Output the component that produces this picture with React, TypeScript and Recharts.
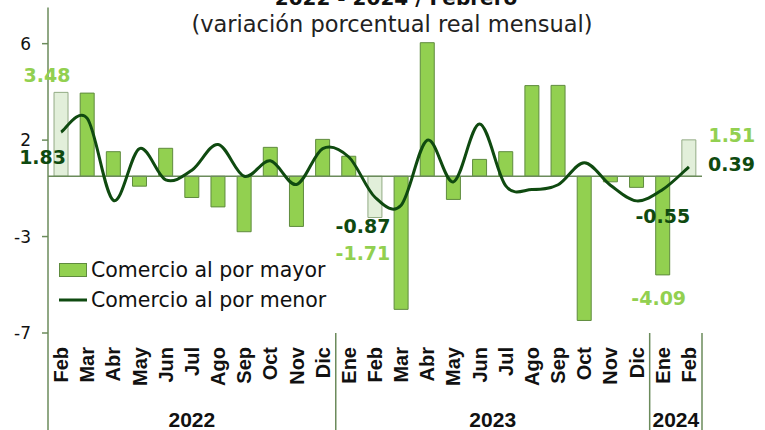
import React from 'react';
import {
    ComposedChart,
    Bar,
    Line,
    Cell,
    XAxis,
    YAxis,
    ReferenceLine,
    Legend,
    LabelList,
} from 'recharts';

const months = ['Feb', 'Mar', 'Abr', 'May', 'Jun', 'Jul', 'Ago', 'Sep', 'Oct', 'Nov', 'Dic',
    'Ene', 'Feb', 'Mar', 'Abr', 'May', 'Jun', 'Jul', 'Ago', 'Sep', 'Oct', 'Nov', 'Dic',
    'Ene', 'Feb'];
const years = ['2022', '2022', '2022', '2022', '2022', '2022', '2022', '2022', '2022', '2022', '2022',
    '2023', '2023', '2023', '2023', '2023', '2023', '2023', '2023', '2023', '2023', '2023', '2023',
    '2024', '2024'];
// Comercio al por mayor
const mayor = [3.48, 3.45, 1.02, -0.41, 1.16, -0.88, -1.27, -2.30, 1.20, -2.08, 1.53,
    0.83, -1.71, -5.52, 5.54, -0.96, 0.70, 1.02, 3.76, 3.77, -5.98, -0.23, -0.46,
    -4.09, 1.51];
// Comercio al por menor
const menor = [1.83, 2.40, -1.00, 1.15, -0.15, 0.25, 1.32, 0.00, 0.64, -0.34, 1.15,
    0.80, -0.87, -1.20, 1.50, -0.23, 2.17, -0.40, -0.55, -0.35, 0.56, -0.37, -1.02,
    -0.55, 0.39];
const yTicks = [-6.5, -2.5, 1.5, 5.5];

const data = months.map((m, i) => ({ month: m, year: years[i], mayor: mayor[i], menor: menor[i] }));

const W = 765;
const H = 430;
const LEFT = 48;
const RIGHT = 63;
const AXIS_H = 97;
const PLOT_BOTTOM = H - AXIS_H;
const BAND = (W - LEFT - RIGHT) / months.length;

const GREEN = '#92D050';
const GREEN_STROKE = '#5f8b3e';
const PALE = '#E2EFDA';
const PALE_STROKE = '#93ab85';
const DARK = '#0f4a10';
const AXIS = '#6b8b5b';

// Excel-like smoothed line (Catmull-Rom through every point)
function smoothCurve(context: any) {
    let pts: number[][] = [];
    return {
        areaStart() {},
        areaEnd() {},
        lineStart() { pts = []; },
        point(x: number, y: number) { pts.push([+x, +y]); },
        lineEnd() {
            if (!pts.length) return;
            context.moveTo(pts[0][0], pts[0][1]);
            for (let i = 0; i < pts.length - 1; i++) {
                const p0 = pts[Math.max(0, i - 1)];
                const p1 = pts[i];
                const p2 = pts[i + 1];
                const p3 = pts[Math.min(pts.length - 1, i + 2)];
                context.bezierCurveTo(
                    p1[0] + (p2[0] - p0[0]) / 6, p1[1] + (p2[1] - p0[1]) / 6,
                    p2[0] - (p3[0] - p1[0]) / 6, p2[1] - (p3[1] - p1[1]) / 6,
                    p2[0], p2[1]
                );
            }
        },
    };
}

const barLabelPos: Record<number, number[]> = { 0: [-14, -17], 12: [-12, 35], 23: [-4, 23.5], 24: [43, -5] };
const lineLabelPos: Record<number, number[]> = { 0: [-18.5, 24.5], 12: [-12, 29], 23: [0, 26.5], 24: [42.5, -2.5] };

const labelStyle = { fontFamily: 'DejaVu Sans', fontWeight: 700, fontSize: 19 };

function BarLabel(props: any) {
    const { x, y, width, height, value, index } = props;
    const pos = barLabelPos[index];
    if (!pos) return null;
    const endY = value >= 0 ? Math.min(y, y + height) : Math.max(y, y + height);
    return (
        <text x={x + width / 2 + pos[0]} y={endY + pos[1]} textAnchor="middle" dominantBaseline="central"
            fill={GREEN} style={labelStyle}>
            {Number(value).toFixed(2)}
        </text>
    );
}

function LineLabel(props: any) {
    const { x, y, value, index } = props;
    const pos = lineLabelPos[index];
    if (!pos) return null;
    return (
        <text x={x + pos[0]} y={y + pos[1]} textAnchor="middle" dominantBaseline="central"
            fill={DARK} style={labelStyle}>
            {Number(value).toFixed(2)}
        </text>
    );
}

function MonthTick(props: any) {
    const { x, index } = props;
    const left = x - BAND / 2;
    const isStart = index === 0 || years[index] !== years[index - 1];
    const isLast = index === months.length - 1;
    const count = years.filter((y) => y === years[index]).length;
    const ty = PLOT_BOTTOM + 14;
    return (
        <g>
            <text x={x} y={ty} transform={`rotate(-90 ${x} ${ty})`} textAnchor="end" dominantBaseline="central"
                fill="#111" style={{ fontFamily: 'Liberation Sans', fontWeight: 700, fontSize: 20 }}>
                {months[index]}
            </text>
            {isStart && (
                <>
                    <line x1={left} x2={left} y1={PLOT_BOTTOM} y2={H} stroke={AXIS} strokeWidth={1.5} />
                    <text x={left + (count * BAND) / 2} y={H - 3} textAnchor="middle" fill="#111"
                        style={{ fontFamily: 'Liberation Sans', fontWeight: 700, fontSize: 21 }}>
                        {years[index]}
                    </text>
                </>
            )}
            {isLast && <line x1={x + BAND / 2} x2={x + BAND / 2} y1={PLOT_BOTTOM} y2={H} stroke={AXIS} strokeWidth={1.5} />}
        </g>
    );
}

function LegendBox() {
    const text = { fontFamily: 'DejaVu Sans', fontSize: 20.5, color: '#111', marginLeft: 4 };
    return (
        <div style={{ display: 'flex', flexDirection: 'column' }}>
            <div style={{ display: 'flex', alignItems: 'center', height: 30 }}>
                <svg width={28} height={14}>
                    <rect x={0.5} y={0.5} width={27} height={13} fill={GREEN} stroke={GREEN_STROKE} />
                </svg>
                <span style={text}>Comercio al por mayor</span>
            </div>
            <div style={{ display: 'flex', alignItems: 'center', height: 30 }}>
                <svg width={28} height={6}>
                    <line x1={0} x2={28} y1={3} y2={3} stroke={DARK} strokeWidth={3} />
                </svg>
                <span style={text}>Comercio al por menor</span>
            </div>
        </div>
    );
}

export default function App() {
    return (
        <div style={{ position: 'absolute', left: 0, top: 0, width: W, height: H, background: '#fff' }}>
            <ComposedChart width={W} height={H} data={data} barCategoryGap="23%"
                margin={{ top: 7.5, right: RIGHT, left: 0, bottom: 0 }}>
                <XAxis dataKey="month" interval={0} axisLine={false} tickLine={false} height={AXIS_H}
                    tick={<MonthTick />} />
                <YAxis width={LEFT} domain={[-6.5, 7]} ticks={yTicks} allowDataOverflow
                    axisLine={{ stroke: AXIS, strokeWidth: 1.5 }} tickLine={{ stroke: AXIS, strokeWidth: 1.5 }}
                    tickSize={6} tickMargin={11}
                    tick={{ fill: '#111', fontFamily: 'DejaVu Sans', fontSize: 17 }}
                    tickFormatter={(v: number) => String(Math.sign(v) * Math.round(Math.abs(v)))} />
                <Bar dataKey="mayor" strokeWidth={1} isAnimationActive={false}>
                    {data.map((d, i) => (
                        <Cell key={`c-${i}`} fill={d.month === 'Feb' ? PALE : GREEN}
                            stroke={d.month === 'Feb' ? PALE_STROKE : GREEN_STROKE} />
                    ))}
                    <LabelList dataKey="mayor" content={<BarLabel />} />
                </Bar>
                <ReferenceLine y={0} stroke={AXIS} strokeWidth={1.5} />
                <Line dataKey="menor" type={smoothCurve as any} stroke={DARK} strokeWidth={3} dot={false}
                    isAnimationActive={false}>
                    <LabelList dataKey="menor" content={<LineLabel />} />
                </Line>
                <Legend layout="horizontal" verticalAlign="middle" content={<LegendBox />}
                    wrapperStyle={{ left: 59, top: 255, width: 330, height: 60, bottom: 'auto' }} />
            </ComposedChart>
            <svg width={W} height={40} style={{ position: 'absolute', left: 0, top: 0, pointerEvents: 'none' }}>
                <text x={396} y={5} textAnchor="middle" fill="#111"
                    style={{ fontFamily: 'DejaVu Sans', fontWeight: 700, fontSize: 20 }}>
                    2022 - 2024 / Febrero
                </text>
                <text x={392} y={32} textAnchor="middle" fill="#222"
                    style={{ fontFamily: 'DejaVu Sans', fontSize: 22.5 }}>
                    (variación porcentual real mensual)
                </text>
            </svg>
        </div>
    );
}
